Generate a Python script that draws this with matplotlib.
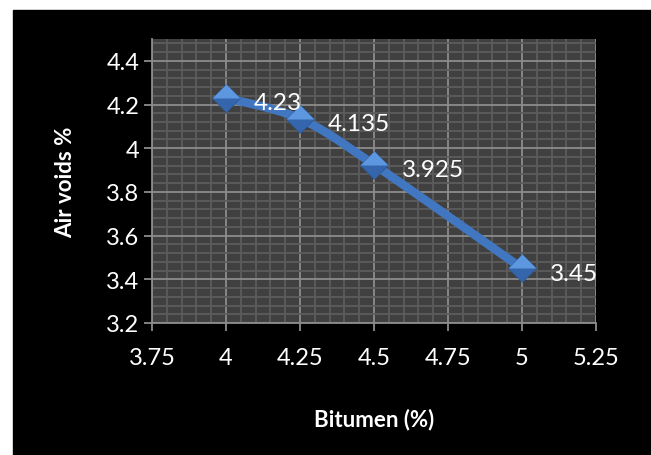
import numpy as np
import matplotlib.pyplot as plt
from matplotlib.patches import Rectangle
from matplotlib.ticker import MultipleLocator, FixedLocator

bitumen = [4.0, 4.25, 4.5, 5.0]
air_voids = [4.23, 4.135, 3.925, 3.45]
point_labels = ['4.23', '4.135', '3.925', '3.45']
x_ticks = [3.75, 4.0, 4.25, 4.5, 4.75, 5.0, 5.25]
x_tick_labels = ['3.75', '4', '4.25', '4.5', '4.75', '5', '5.25']
y_ticks = [3.2, 3.4, 3.6, 3.8, 4.0, 4.2, 4.4]
y_tick_labels = ['3.2', '3.4', '3.6', '3.8', '4', '4.2', '4.4']

plt.rcParams['font.family'] = ['Lato', 'DejaVu Sans']

fig = plt.figure(figsize=(6.51, 4.56), dpi=100)
fig.patch.set_facecolor('white')
fig.add_artist(Rectangle((13 / 651, 0), 1, (456 - 11) / 456,
                         transform=fig.transFigure, color='black', zorder=-10))

ax = fig.add_axes([152 / 651, (456 - 324) / 456, 444 / 651, 284 / 456])
ax.set_facecolor('#404040')
ax.set_xlim(3.75, 5.25)
ax.set_ylim(3.2, 4.5)

# smooth line like excel (bezier through the points, in pixel-ish space)
sx = 444 / 1.5
sy = 284 / 1.3
px = np.array(bitumen) * sx
py = np.array(air_voids) * sy
n = len(px)
cx, cy = [], []
t = np.linspace(0, 1, 40)
for i in range(n - 1):
    p0 = (px[max(i - 1, 0)], py[max(i - 1, 0)])
    p1 = (px[i], py[i])
    p2 = (px[i + 1], py[i + 1])
    p3 = (px[min(i + 2, n - 1)], py[min(i + 2, n - 1)])
    c1 = (p1[0] + (p2[0] - p0[0]) / 6, p1[1] + (p2[1] - p0[1]) / 6)
    c2 = (p2[0] - (p3[0] - p1[0]) / 6, p2[1] - (p3[1] - p1[1]) / 6)
    bx = (1 - t) ** 3 * p1[0] + 3 * (1 - t) ** 2 * t * c1[0] + 3 * (1 - t) * t ** 2 * c2[0] + t ** 3 * p2[0]
    by = (1 - t) ** 3 * p1[1] + 3 * (1 - t) ** 2 * t * c1[1] + 3 * (1 - t) * t ** 2 * c2[1] + t ** 3 * p2[1]
    cx.extend(bx / sx)
    cy.extend(by / sy)

ax.plot(cx, cy, color='#4077c0', lw=6.2, solid_capstyle='butt', zorder=3)

diamond = [(-1, 0), (0, 1), (1, 0), (0, -1), (-1, 0)]
upper = [(-1, 0), (0, 1), (1, 0), (0, 0), (-1, 0)]
ax.plot(bitumen, air_voids, ls='none', marker=diamond, ms=20,
        mfc='#3566ad', mec='#2d5a98', mew=0.6, zorder=4)
ax.plot(bitumen, air_voids, ls='none', marker=upper,
        ms=20, mfc='#5c97df', mec='none', zorder=5)

for xv, yv, lab in zip(bitumen, air_voids, point_labels):
    ax.annotate(lab, (xv, yv), xytext=(20, -3.5), textcoords='offset points',
                color='white', fontsize=17.5, va='center', ha='left', zorder=6)

ax.xaxis.set_major_locator(FixedLocator(x_ticks))
ax.set_xticklabels(x_tick_labels)
ax.yaxis.set_major_locator(FixedLocator(y_ticks))
ax.set_yticklabels(y_tick_labels)
ax.xaxis.set_minor_locator(MultipleLocator(0.05))
ax.yaxis.set_minor_locator(MultipleLocator(0.04))

ax.grid(which='minor', color='#5c5c5c', lw=1.3, zorder=1)
ax.grid(which='major', color='#8c8c8c', lw=1.3, zorder=2)
ax.set_axisbelow(True)

for s in ['top', 'right']:
    ax.spines[s].set_visible(False)
for s in ['left', 'bottom']:
    ax.spines[s].set_color('#8c8c8c')
    ax.spines[s].set_linewidth(1.3)

ax.tick_params(which='major', color='#8c8c8c', length=6, width=1.3,
               labelcolor='white', labelsize=17)
ax.tick_params(axis='x', which='major', pad=11)
ax.tick_params(axis='y', which='major', pad=3)
ax.tick_params(which='minor', length=0)

ax.set_xlabel('Bitumen (%)', color='white', fontsize=16, fontweight='bold', labelpad=29)
ax.set_ylabel('Air voids %', color='white', fontsize=16, fontweight='bold', labelpad=22)

fig.savefig('out.png', dpi=100)
